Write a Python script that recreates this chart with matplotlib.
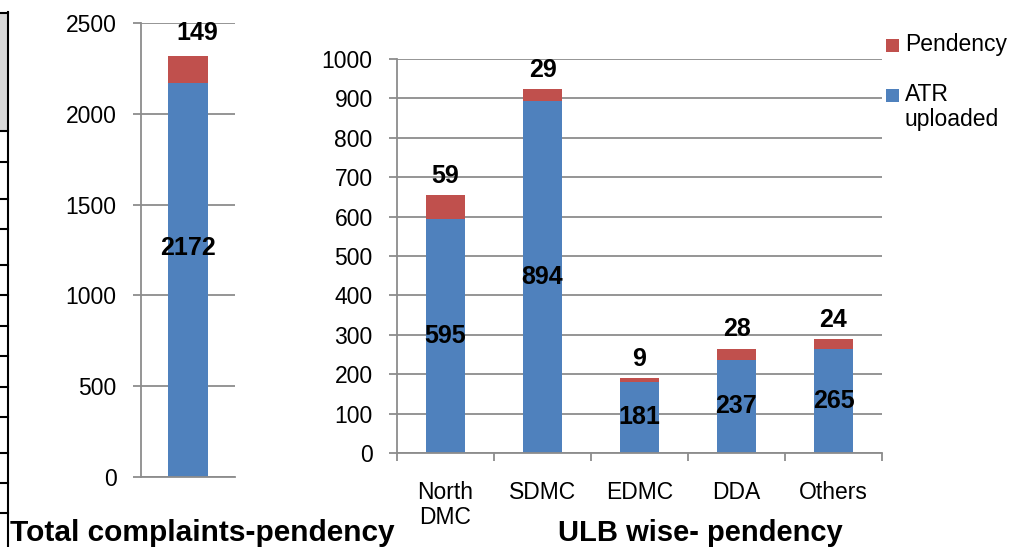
import matplotlib
matplotlib.use("Agg")
import matplotlib.pyplot as plt
from matplotlib.lines import Line2D
from matplotlib.patches import Rectangle

plt.rcParams['font.family'] = ['Liberation Sans', 'DejaVu Sans']

# ---- data ----
total_atr = [2172]
total_pend = [149]
ulb_categories = ["North\nDMC", "SDMC", "EDMC", "DDA", "Others"]
ulb_atr = [595, 894, 181, 237, 265]
ulb_pend = [59, 29, 9, 28, 24]
left_ticks = [0, 500, 1000, 1500, 2000, 2500]
right_ticks = list(range(0, 1001, 100))
legend_labels = ["Pendency", "ATR\nuploaded"]

BLUE = "#4F81BD"
RED = "#C0504D"
GRID = "#8C8C8C"

W, H = 1015, 547
fig = plt.figure(figsize=(W / 100, H / 100), dpi=100)


def px_axes(x0, y0, x1, y1):
    return fig.add_axes([x0 / W, 1 - y1 / H, (x1 - x0) / W, (y1 - y0) / H])


def style(ax, ticks):
    ax.set_ylim(ticks[0], ticks[-1])
    ax.set_yticks(ticks)
    ax.yaxis.grid(True, color=GRID, linewidth=1.3)
    ax.set_axisbelow(True)
    for s in ["top", "right"]:
        ax.spines[s].set_visible(False)
    for s in ["left", "bottom"]:
        ax.spines[s].set_color(GRID)
        ax.spines[s].set_linewidth(1.3)
    ax.tick_params(axis="y", direction="out", length=6, color=GRID, width=1.3,
                   labelsize=16.5, pad=11.5)
    ax.set_facecolor("none")


# ---- left chart ----
axL = px_axes(141, 23, 235, 477)
style(axL, left_ticks)
axL.set_xlim(-0.5, 0.5)
axL.bar([0], total_atr, width=0.42, color=BLUE)
axL.bar([0], total_pend, bottom=total_atr, width=0.42, color=RED)
axL.set_xticks([])
axL.text(0, 1260, str(total_atr[0]), ha="center", va="center",
         fontsize=18, fontweight="bold")
axL.annotate(str(total_pend[0]), (0.1, total_atr[0] + total_pend[0]),
             xytext=(0, 16), textcoords="offset points", ha="center",
             va="center", fontsize=18, fontweight="bold")

# ---- right chart ----
axR = px_axes(397, 59, 882, 453)
style(axR, right_ticks)
x = list(range(len(ulb_categories)))
axR.set_xlim(-0.5, len(x) - 0.5)
axR.bar(x, ulb_atr, width=0.4, color=BLUE)
axR.bar(x, ulb_pend, bottom=ulb_atr, width=0.4, color=RED)
axR.set_xticks([i - 0.5 for i in range(len(x) + 1)])
axR.set_xticklabels([])
axR.set_xticks(x, minor=True)
axR.set_xticklabels(ulb_categories, minor=True, fontsize=16.5, linespacing=1.12)
axR.tick_params(axis="x", which="major", direction="out", length=6,
                color=GRID, width=1.3)
axR.tick_params(axis="x", which="minor", length=0, pad=20)
for i, (a, p) in enumerate(zip(ulb_atr, ulb_pend)):
    axR.text(i, a / 2, str(a), ha="center", va="center",
             fontsize=18, fontweight="bold")
    axR.annotate(str(p), (i, a + p), xytext=(0, 14), textcoords="offset points",
                 ha="center", va="center", fontsize=18, fontweight="bold")

# ---- legend (handle aligned with first text line, as in the reference) ----
for (lbl, col, ytop) in [(legend_labels[0], RED, 45), (legend_labels[1], BLUE, 95)]:
    fig.patches.append(Rectangle((886 / W, 1 - (ytop + 7) / H), 13 / W, 13 / H,
                                 transform=fig.transFigure, facecolor=col,
                                 edgecolor="none"))
    fig.text(905 / W, 1 - (ytop - 12) / H, lbl, ha="left", va="top",
             fontsize=16.5, linespacing=1.12)

# ---- titles ----
fig.text(10 / W, 1 - 533 / H, "Total complaints-pendency", ha="left",
         va="center", fontsize=21.5, fontweight="bold")
fig.text(700 / W, 1 - 533 / H, "ULB wise- pendency", ha="center",
         va="center", fontsize=21, fontweight="bold")

# ---- left-edge table border fragment ----
fig.patches.append(Rectangle((0, 1 - 131 / H), 7 / W, (131 - 13) / H,
                             transform=fig.transFigure, facecolor="#D9D9D9",
                             edgecolor="none"))
fig.lines.append(Line2D([8 / W, 8 / W], [1 - 12 / H, 0],
                        transform=fig.transFigure, color="black", lw=1.5))
for yy in [13, 131, 162, 199, 229, 265, 295, 326, 356, 387, 417, 453, 483, 513]:
    fig.lines.append(Line2D([0, 8 / W], [1 - yy / H, 1 - yy / H],
                            transform=fig.transFigure, color="black", lw=1.5))

fig.savefig("out.png", dpi=100)
